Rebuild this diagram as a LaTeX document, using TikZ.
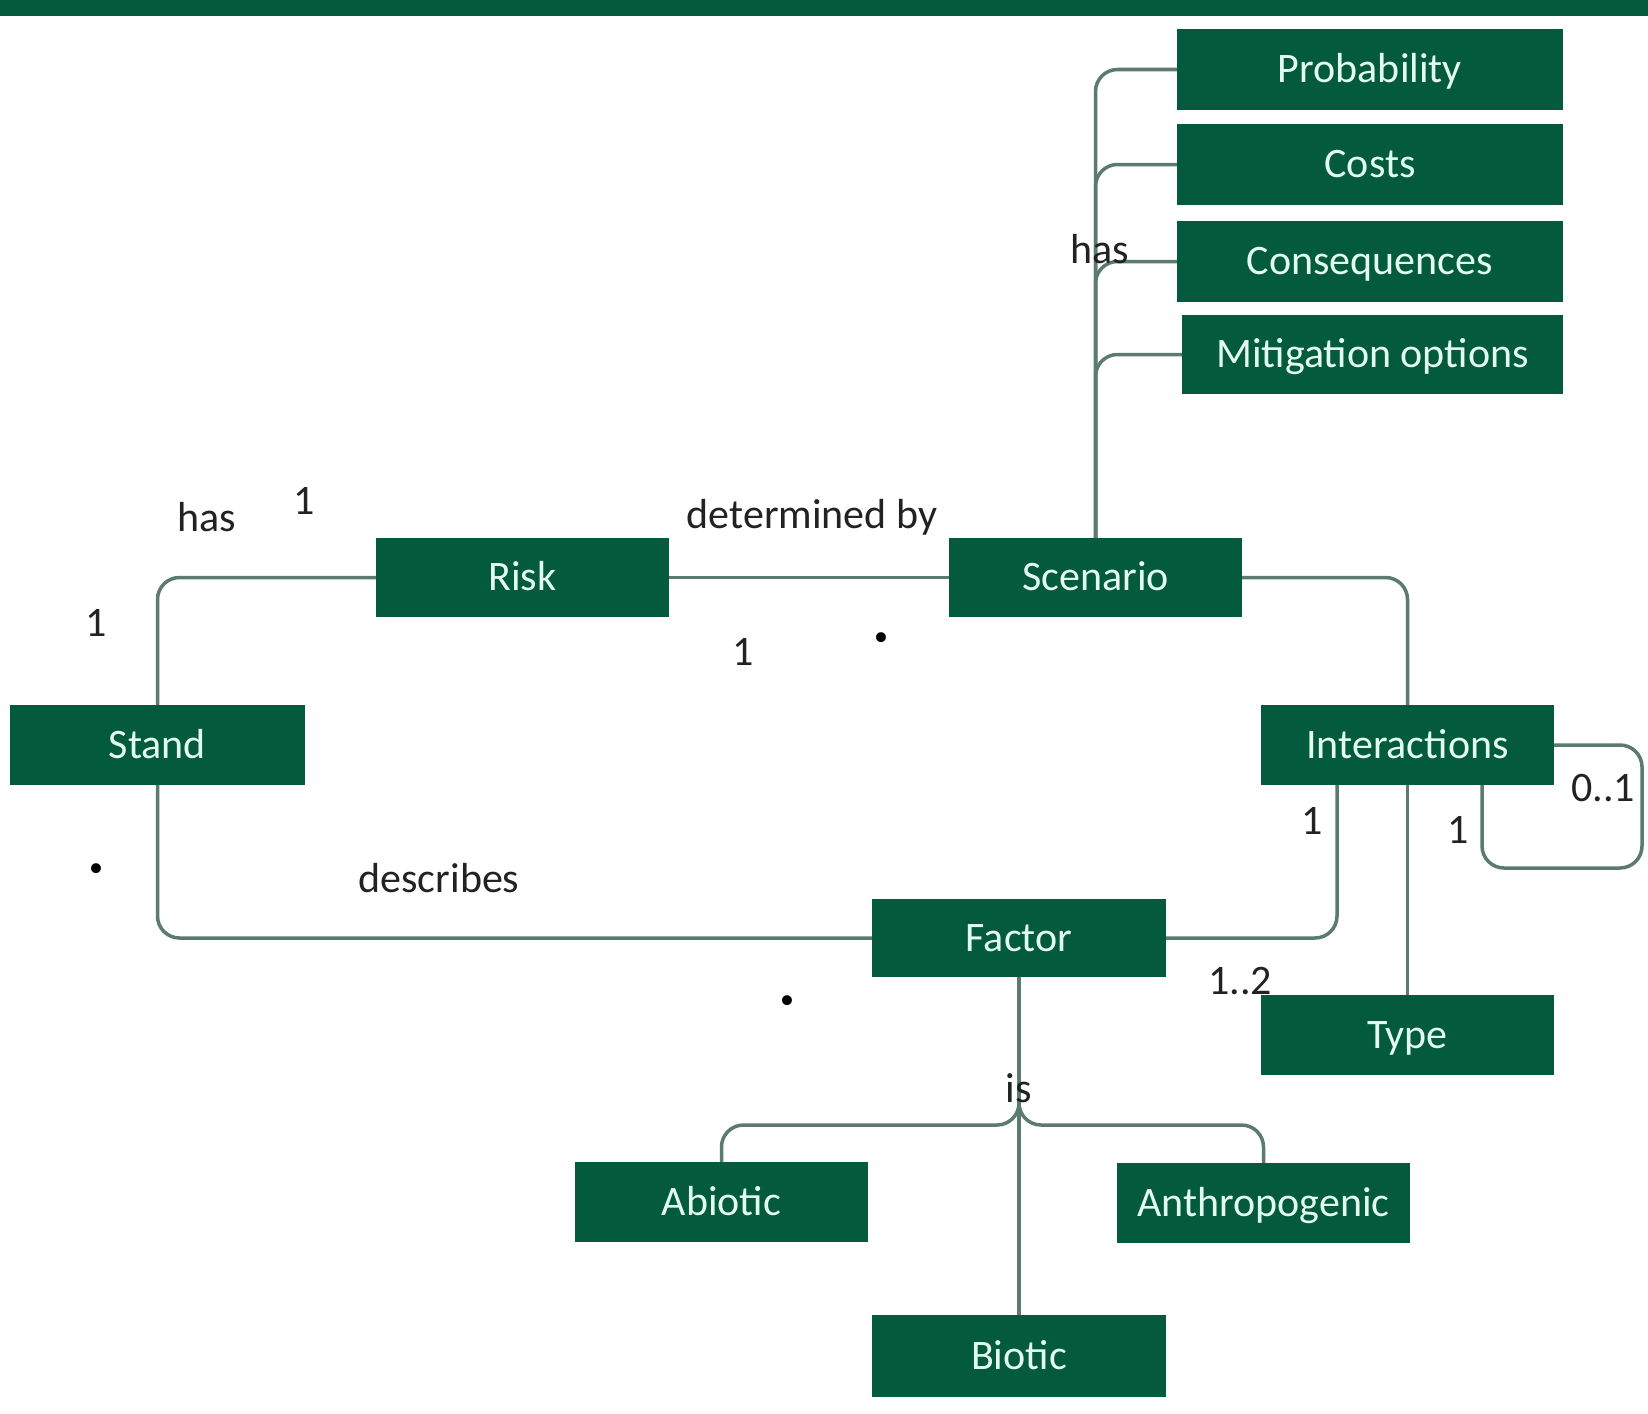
\documentclass[tikz,border=0pt]{standalone}
\usepackage{fontspec}
\setmainfont{Carlito}
\definecolor{boxgreen}{HTML}{035A3C}
\definecolor{boxtext}{HTML}{E2FCF0}
\definecolor{linegreen}{HTML}{5B7A70}
\definecolor{labeltext}{HTML}{222222}
\begin{document}
\begin{tikzpicture}[x=1pt,y=-1pt,
  ent/.style={fill=boxgreen,text=boxtext,inner sep=0pt,minimum width=293pt,minimum height=80pt,text height=26pt,text depth=0pt,font=\fontsize{42}{50}\selectfont},
  wide/.style={ent,minimum width=386pt,minimum height=81pt},
  conn/.style={draw=linegreen,line width=3.5pt,rounded corners=22pt},
  lbl/.style={text=labeltext,inner sep=0pt,font=\fontsize{42}{50}\selectfont},
  dotlbl/.style={text=black,inner sep=0pt,font=\fontsize{28}{30}\selectfont}]
\useasboundingbox (0,0) rectangle (1648,1413);
\fill[boxgreen] (0,0) rectangle (1648,16);
% entities
\node[wide] (prob) at (1370,69.5) {Probability};
\node[wide] (costs) at (1370,164.5) {Costs};
\node[wide] (cons) at (1370,261.5) {Consequences};
\node[wide,minimum width=381pt,minimum height=79pt] (mitig) at (1372.5,354.5) {Mitigation options};
\node[ent,minimum height=79pt] (risk) at (522.5,577.5) {Risk};
\node[ent,minimum height=79pt] (scen) at (1095.5,577.5) {Scenario};
\node[ent,minimum width=295pt] (stand) at (157.5,745) {Stand};
\node[ent] (inter) at (1407.5,745) {Interactions};
\node[ent,minimum width=294pt,minimum height=78pt] (factor) at (1019,938) {Factor};
\node[ent] (type) at (1407.5,1035) {Type};
\node[ent] (abiotic) at (721.5,1202) {Abiotic};
\node[ent] (anthro) at (1263.5,1203) {Anthropogenic};
\node[ent,minimum width=294pt,minimum height=82pt] (biotic) at (1019,1356) {Biotic};
% helper coordinates
\coordinate (isjn) at (1019,1125);
\coordinate (loopa) at (1642,745);
\coordinate (loopb) at (1642,868);
\coordinate (loopc) at (1482,868);
% connectors
\draw[conn] (scen.north) |- (prob.west);
\draw[conn] (scen.north) |- (costs.west);
\draw[conn] (scen.north) |- (cons.west);
\draw[conn] (scen.north) |- (mitig.west);
\draw[conn] (stand.north) |- (risk.west);
\draw[conn] (risk.east) -- (scen.west);
\draw[conn] (scen.east) -| (inter.north);
\draw[conn] (stand.south) |- (factor.west);
\draw[conn] (factor.east) -| ([xshift=-70.5pt]inter.south);
\draw[conn] (inter.south) -- (type.north);
\draw[conn] (inter.east) -- (loopa) -- (loopb) -- (loopc) -- ([xshift=74.5pt]inter.south);
\draw[conn] (factor.south) -- (isjn) -| (abiotic.north);
\draw[conn] (factor.south) -- (isjn) -| (anthro.north);
\draw[conn] (factor.south) -- (biotic.north);
% labels
\node[lbl] (l1) at (1100,249) {has};
\node[lbl] (l2) at (207,517) {has};
\node[lbl] (l3) at (304,501) {1};
\node[lbl] (l4) at (96,623) {1};
\node[lbl] (l5) at (812,517) {determined by};
\node[lbl] (l6) at (743,652) {1};
\node[dotlbl] (l7) at (881,639) {•};
\node[lbl] (l8) at (439,878) {describes};
\node[dotlbl] (l9) at (96,870) {•};
\node[dotlbl] (l10) at (787,1002) {•};
\node[lbl] (l11) at (1019,1088) {is};
\node[lbl] (l12) at (1312,821) {1};
\node[lbl] (l13) at (1240,981) {1..2};
\node[lbl] (l14) at (1458,830) {1};
\node[lbl] (l15) at (1603,788) {0..1};
\end{tikzpicture}
\end{document}
